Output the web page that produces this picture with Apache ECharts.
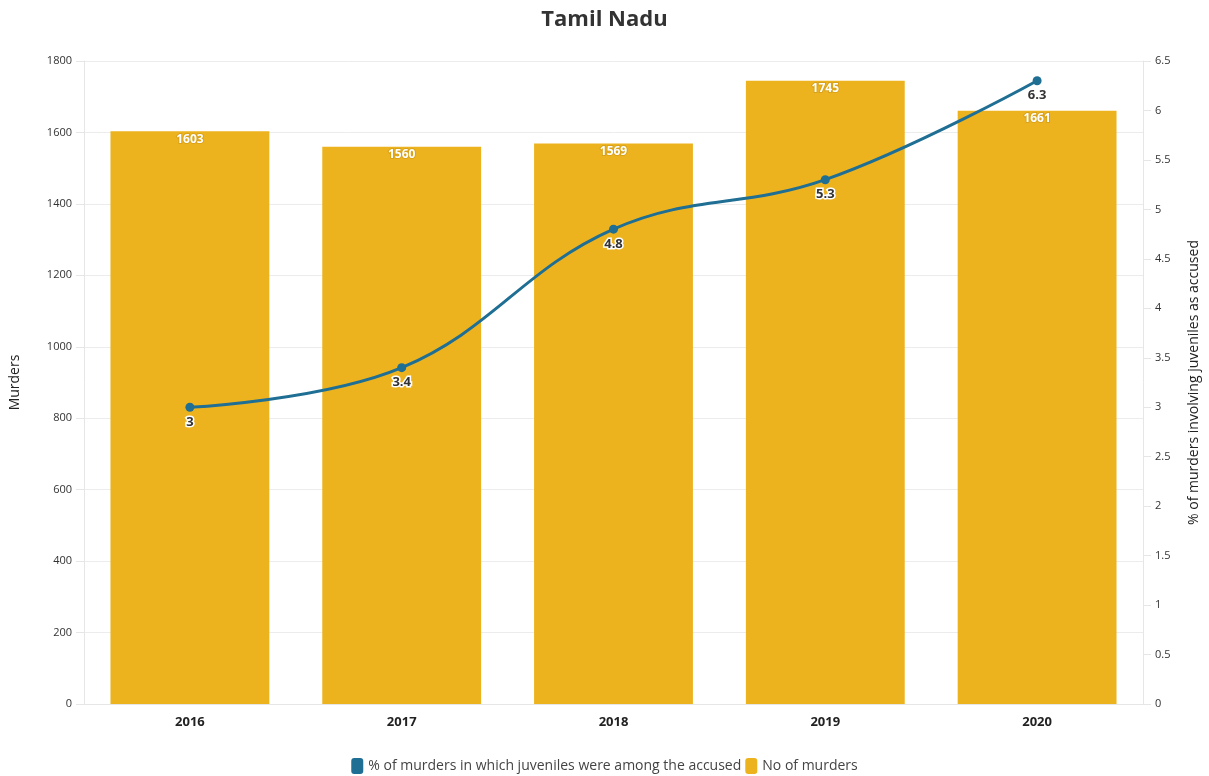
<!DOCTYPE html>
<html>
<head>
<meta charset="utf-8">
<title>Tamil Nadu</title>
<script src="https://cdn.jsdelivr.net/npm/echarts@6/dist/echarts.min.js"></script>
<style>
  html, body { margin: 0; padding: 0; background: #fff; }
  #chart { width: 1209px; height: 776px; }
</style>
</head>
<body>
<div id="chart"></div>
<script>
// data
var years = ["2016", "2017", "2018", "2019", "2020"];
var murders = [1603, 1560, 1569, 1745, 1661];
var juvenilePct = [3, 3.4, 4.8, 5.3, 6.3];

var barColor = "#EDB31F";
var lineColor = "#1F6E94";

var myChart = echarts.init(document.getElementById("chart"));
myChart.setOption({
  textStyle: { fontFamily: "Open Sans" },
  title: {
    text: "Tamil Nadu",
    left: "center",
    top: 4,
    textStyle: { fontSize: 22, fontWeight: "bold", color: "#333" }
  },
  grid: { left: 84, right: 66, top: 61, bottom: 72 },
  legend: {
    bottom: -3,
    itemWidth: 12,
    itemHeight: 16,
    itemGap: 4,
    textStyle: { fontSize: 14, color: "#444" },
    data: [
      { name: "% of murders in which juveniles were among the accused", icon: "roundRect" },
      { name: "No of murders", icon: "roundRect" }
    ]
  },
  xAxis: {
    type: "category",
    data: years,
    axisTick: { show: false },
    axisLine: { lineStyle: { color: "#e6e6e6" } },
    axisLabel: { color: "#222", fontWeight: "bold", fontSize: 13, margin: 12 }
  },
  yAxis: [
    {
      type: "value",
      name: "Murders",
      nameLocation: "middle",
      nameGap: 62,
      nameTextStyle: { fontSize: 14, color: "#222" },
      min: 0,
      max: 1800,
      interval: 200,
      axisLine: { show: true, lineStyle: { color: "#e6e6e6" } },
      axisTick: { show: true, length: 8, lineStyle: { color: "#e6e6e6" } },
      axisLabel: {
        color: "#333",
        fontSize: 11,
        margin: 12,
        formatter: function (v) { return String(v); }
      },
      splitLine: { lineStyle: { color: "#ececec" } }
    },
    {
      type: "value",
      name: "% of murders involving juveniles as accused",
      nameLocation: "middle",
      nameGap: 44,
      nameRotate: 90,
      nameTextStyle: { fontSize: 14, color: "#222" },
      min: 0,
      max: 6.5,
      interval: 0.5,
      axisLine: { show: true, lineStyle: { color: "#e6e6e6" } },
      axisTick: { show: true, length: 8, lineStyle: { color: "#e6e6e6" } },
      axisLabel: { color: "#333", fontSize: 11, margin: 12 },
      splitLine: { show: false }
    }
  ],
  series: [
    {
      name: "No of murders",
      type: "bar",
      data: murders,
      yAxisIndex: 0,
      barWidth: "75%",
      itemStyle: { color: barColor },
      label: {
        show: true,
        position: "insideTop",
        distance: 2,
        color: "#fff",
        fontWeight: "bold",
        fontSize: 12,
        textBorderColor: "#d9a21a",
        textBorderWidth: 2
      },
      z: 1
    },
    {
      name: "% of murders in which juveniles were among the accused",
      type: "line",
      data: juvenilePct,
      yAxisIndex: 1,
      smooth: 0.4,
      symbol: "circle",
      symbolSize: 9,
      lineStyle: { color: lineColor, width: 3 },
      itemStyle: { color: lineColor },
      label: {
        show: true,
        position: "bottom",
        distance: 4,
        color: "#333",
        fontWeight: "bold",
        fontSize: 13,
        textBorderColor: "#fff",
        textBorderWidth: 3
      },
      z: 3
    }
  ]
});
</script>
</body>
</html>
